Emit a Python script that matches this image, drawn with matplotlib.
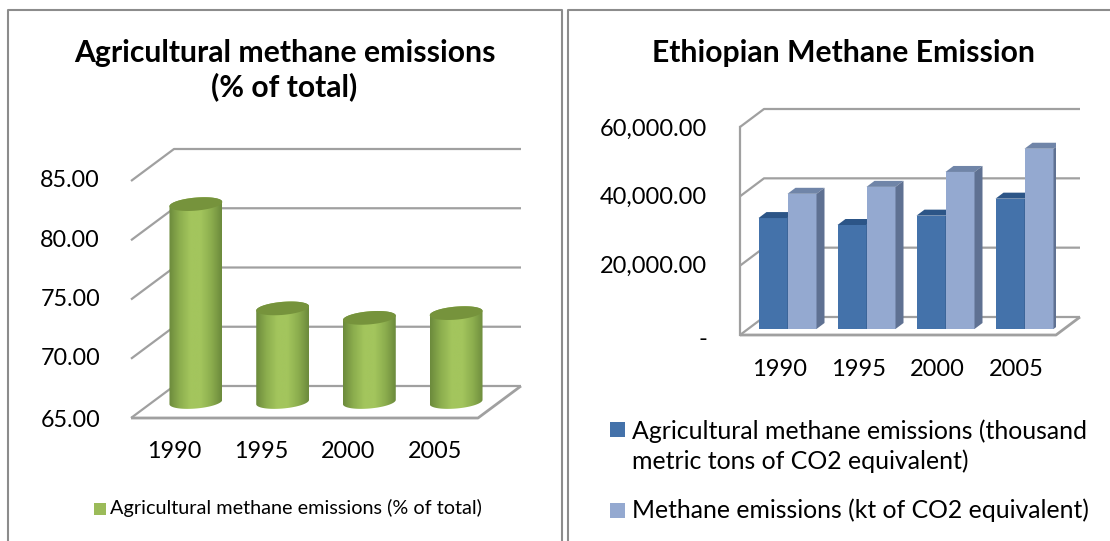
import numpy as np
import matplotlib
matplotlib.use("Agg")
import matplotlib.pyplot as plt
from matplotlib.colors import LinearSegmentedColormap
from matplotlib.lines import Line2D
from matplotlib.patches import Polygon, Rectangle
from matplotlib.path import Path
from matplotlib.patches import PathPatch
from matplotlib.transforms import ScaledTranslation

# ---------- data ----------
years = ["1990", "1995", "2000", "2005"]
pct_total = [81.7, 72.9, 72.1, 72.5]
agri_kt = [32000, 30000, 32700, 37600]
methane_kt = [39000, 41000, 45300, 52000]
left_ticks = [65, 70, 75, 80, 85]
left_tick_labels = ["65.00", "70.00", "75.00", "80.00", "85.00"]
right_ticks = [0, 20000, 40000, 60000]
right_tick_labels = ["-", "20,000.00", "40,000.00", "60,000.00"]
left_title = "Agricultural methane emissions\n(% of total)"
right_title = "Ethiopian Methane Emission"
left_legend = "Agricultural methane emissions (% of total)"
right_legend_a = "Agricultural methane emissions (thousand\nmetric tons of CO2 equivalent)"
right_legend_b = "Methane emissions (kt of CO2 equivalent)"

# ---------- style ----------
W, H = 1110, 541
FONT = "Lato"
GRID = "#a0a0a0"
FRAME = "#8c8c8c"
TXT = "#000000"
plt.rcParams["font.family"] = [FONT, "DejaVu Sans"]

fig = plt.figure(figsize=(W / 100, H / 100), dpi=100, facecolor="white")


def px_axes(l, t, r, b):
    return fig.add_axes([l / W, 1 - b / H, (r - l) / W, (b - t) / H])


def fx(x):
    return x / W


def fy(y):
    return 1 - y / H


def frame(x0, x1):
    pts_x = [fx(x0), fx(x0), fx(x1), fx(x1)] if x1 < W else [fx(x0), fx(x0), fx(x1)]
    pts_y = [0, fy(9.5), fy(9.5), 0] if x1 < W else [0, fy(9.5), fy(9.5)]
    fig.add_artist(Line2D(pts_x, pts_y, color=FRAME, lw=1.5, transform=fig.transFigure))


frame(8, 561.5)
frame(567.5, W)


def setup(ax, ticks, labels, ylim, pad_px, yshifts, size, xpad_px):
    ax.set_xlim(-0.5, 3.5)
    ax.set_ylim(*ylim)
    for s in ax.spines.values():
        s.set_visible(False)
    ax.patch.set_alpha(0)
    ax.set_xticks(range(len(years)), years)
    ax.set_yticks(ticks, labels)
    ax.tick_params(axis="both", length=0, labelsize=size, colors=TXT)
    ax.tick_params(axis="y", pad=pad_px * 0.72)
    ax.tick_params(axis="x", pad=xpad_px * 0.72)
    for lab, sh in zip(ax.get_yticklabels(), yshifts):
        off = ScaledTranslation(0, sh / 100, fig.dpi_scale_trans)
        lab.set_transform(lab.get_transform() + off)


def walls(ax, ticks, dx, dy, lw=1.5):
    x0, x1 = ax.get_xlim()
    for v in ticks:
        ax.plot([x0, x0 + dx, x1 + dx], [v, v + dy, v + dy], color=GRID, lw=lw,
                clip_on=False, zorder=1, solid_capstyle="butt")
    v = ticks[0]
    ax.plot([x0, x1, x1 + dx], [v, v, v + dy], color=GRID, lw=lw + 0.4,
            clip_on=False, zorder=1, solid_capstyle="butt")


# ---------- left chart ----------
ax1 = px_axes(131, 181, 478, 418)
setup(ax1, left_ticks, left_tick_labels, (65, 85), 31, [-0.5, 2.5, 1.5, 1.5, 2.5], 16.8, 23)
sx1 = 347 / 4
sy1 = 237 / 20
dx1, dy1 = 43 / sx1, 32 / sy1
walls(ax1, left_ticks, dx1, dy1, lw=1.6)

cyl = LinearSegmentedColormap.from_list(
    "cyl", ["#6c8a3c", "#8cae4e", "#a3c55d", "#a3c55d", "#8cae4e", "#6c8a3c"])
RX, RY, TILT = 26.5, 6.5, np.radians(5)


def ell(cx, cy, t):
    ex = RX * np.cos(t) * np.cos(TILT) - RY * np.sin(t) * np.sin(TILT)
    ey = RX * np.cos(t) * np.sin(TILT) + RY * np.sin(t) * np.cos(TILT)
    return np.column_stack([cx + ex / sx1, cy + ey / sy1])


for i, v in enumerate(pct_total):
    cx = i + dx1 / 2
    base = left_ticks[0] + dy1 / 2
    top = v + dy1 / 2
    low = ell(cx, base, np.linspace(np.pi, 2 * np.pi, 50))
    up = ell(cx, top, np.linspace(0, np.pi, 50))
    body = np.vstack([low, up, low[:1]])
    patch = PathPatch(Path(body), facecolor="none", edgecolor="none",
                      transform=ax1.transData, zorder=2, clip_on=False)
    ax1.add_patch(patch)
    grad = np.linspace(0, 1, 128).reshape(1, -1)
    hw = RX / sx1
    im = ax1.imshow(grad, extent=[cx - hw, cx + hw, 65, 85], cmap=cyl, aspect="auto",
                    zorder=2, interpolation="bilinear")
    im.set_clip_path(patch)
    im.set_clip_box(fig.bbox)
    ax1.add_patch(Polygon(ell(cx, top, np.linspace(0, 2 * np.pi, 80)), closed=True,
                          facecolor="#76933c", edgecolor="none", zorder=3, clip_on=False))
ax1.set_xlim(-0.5, 3.5)
ax1.set_ylim(65, 85)

fig.text(fx(284.5), fy(70), left_title, ha="center", va="center", fontsize=21.7,
         fontweight="bold", color=TXT, linespacing=1.2)
fig.add_artist(Rectangle((fx(94), fy(515)), 12 / W, 12 / H, facecolor="#9bbb59",
                         edgecolor="none", transform=fig.transFigure))
fig.text(fx(110), fy(508), left_legend, ha="left", va="center", fontsize=14.3, color=TXT)

# ---------- right chart ----------
ax2 = px_axes(740, 127, 1056, 335)
setup(ax2, right_ticks, right_tick_labels, (0, 60000), 33, [-3, 1, 1, 0], 17.0, 24)
sx2 = 316 / 4
sy2 = 208 / 60000
dx2, dy2 = 24 / sx2, 18 / sy2
walls(ax2, right_ticks, dx2, dy2, lw=1.6)
ax2.plot([-0.5, -0.5], [0, 60000], color=GRID, lw=1.6, clip_on=False, zorder=1)

bar_w = 29 / sx2
bx, by = 8 / sx2, 6 / sy2
series = [
    (agri_kt, -bar_w, "#4472aa", "#2c5587", "#35598a"),
    (methane_kt, 0.0, "#94a9d0", "#7085a8", "#5f7192"),
]
for vals, shift, front, topc, side in series:
    for i, v in enumerate(vals):
        xl = i + shift + bx
        xr = xl + bar_w
        ax2.add_patch(Rectangle((xl, by), bar_w, v, facecolor=front, edgecolor="none", zorder=2))
        ax2.add_patch(Polygon([(xl, by + v), (xr, by + v), (xr + bx, 2 * by + v), (xl + bx, 2 * by + v)],
                              closed=True, facecolor=topc, edgecolor="none", zorder=2))
        ax2.add_patch(Polygon([(xr, by), (xr + bx, 2 * by), (xr + bx, 2 * by + v), (xr, by + v)],
                              closed=True, facecolor=side, edgecolor="none", zorder=2))

fig.text(fx(844), fy(53), right_title, ha="center", va="center", fontsize=21.7,
         fontweight="bold", color=TXT)
fig.add_artist(Rectangle((fx(610), fy(437)), 15 / W, 15 / H, facecolor="#4472aa",
                         edgecolor="none", transform=fig.transFigure))
fig.add_artist(Rectangle((fx(610), fy(518)), 15 / W, 15 / H, facecolor="#94a9d0",
                         edgecolor="none", transform=fig.transFigure))
fig.text(fx(632), fy(446), right_legend_a, ha="left", va="center", fontsize=17.9,
         color=TXT, linespacing=1.3)
fig.text(fx(632), fy(510), right_legend_b, ha="left", va="center", fontsize=17.8, color=TXT)

fig.savefig("out.png", dpi=100, facecolor="white")
